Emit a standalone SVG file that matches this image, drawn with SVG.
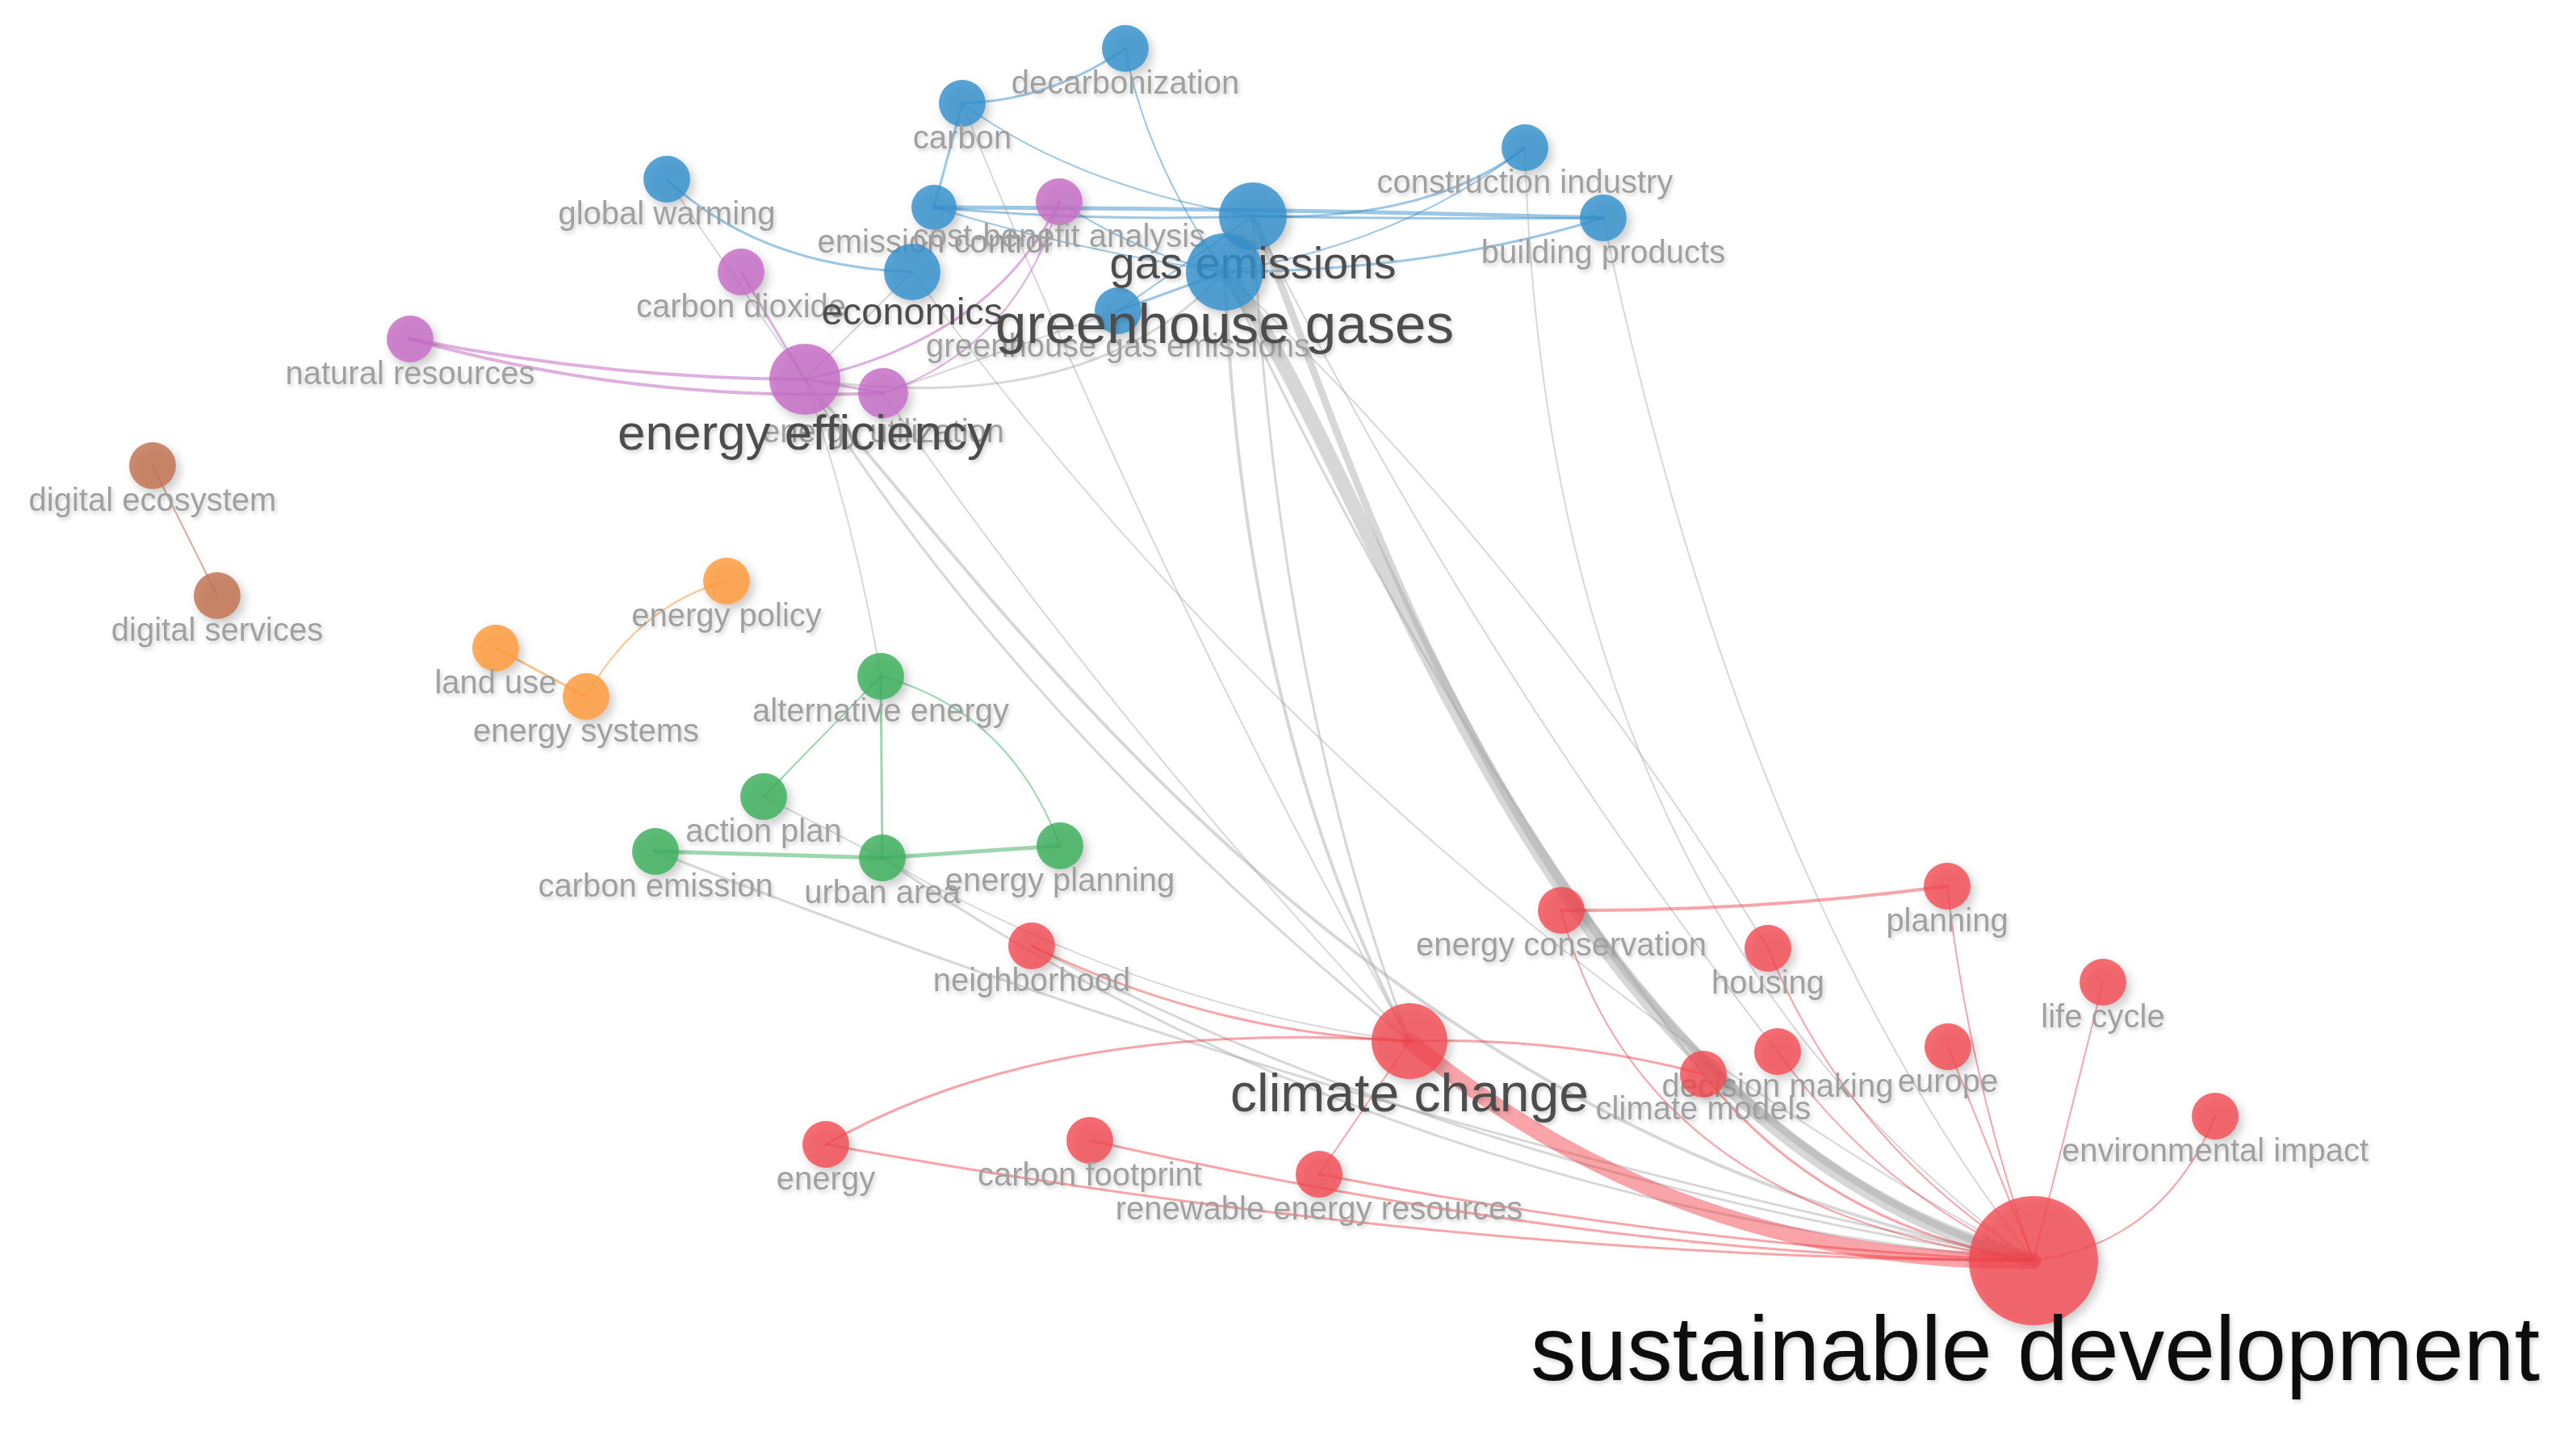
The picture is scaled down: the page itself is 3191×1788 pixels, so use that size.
<svg xmlns="http://www.w3.org/2000/svg" width="3191" height="1788" viewBox="0 0 3191 1788">
<defs>
<filter id="sh" x="-50%" y="-50%" width="200%" height="200%">
<feDropShadow dx="5" dy="6" stdDeviation="6" flood-color="#000" flood-opacity="0.25"/>
</filter>
<filter id="tsh" x="-10%" y="-30%" width="120%" height="160%">
<feDropShadow dx="2" dy="3" stdDeviation="2.5" flood-color="#000" flood-opacity="0.18"/>
</filter>
<style>
.e{fill:none;stroke-linecap:round}
.b{stroke:#3a8fcc;stroke-opacity:.5}
.p{stroke:#c060c0;stroke-opacity:.5}
.g{stroke:#a6a6a6;stroke-opacity:.45}
.gr{stroke:#3aae5c;stroke-opacity:.5}
.o{stroke:#ff9a3c;stroke-opacity:.6}
.br{stroke:#c0704e;stroke-opacity:.6}
.r{stroke:#f0353d;stroke-opacity:.45}
.nb{fill:#3590cc;fill-opacity:.82;filter:url(#sh)}
.np{fill:#c46bc4;fill-opacity:.82;filter:url(#sh)}
.ng{fill:#3aae5c;fill-opacity:.82;filter:url(#sh)}
.no{fill:#ff9a3c;fill-opacity:.82;filter:url(#sh)}
.nbr{fill:#c0704e;fill-opacity:.82;filter:url(#sh)}
.nr{fill:#f2464d;fill-opacity:.78;filter:url(#sh)}
text{font-family:"Liberation Sans",Arial,Helvetica,sans-serif;text-anchor:middle;filter:url(#tsh)}
.s{font-size:40px;fill:#a0a0a0}
.d{fill:#4d4d4d}
</style>
</defs>
<rect width="3191" height="1788" fill="#fff"/>
<g id="connectors">
<path class="e b" stroke-width="3" d="M1394,60 Q1300,125 1192,128"/>
<path class="e b" stroke-width="2" d="M1394,60 Q1420,200 1517,337"/>
<path class="e b" stroke-width="3" d="M1192,128 L1157,257"/>
<path class="e b" stroke-width="2" d="M1192,128 Q1330,230 1552,268"/>
<path class="e b" stroke-width="3" d="M826,222 Q940,330 1130,337"/>
<path class="e b" stroke-width="5" d="M1157,257 Q1570,258 1986,270"/>
<path class="e b" stroke-width="3" d="M1157,257 Q1350,275 1552,268"/>
<path class="e b" stroke-width="2" d="M1157,257 Q1330,310 1517,337"/>
<path class="e b" stroke-width="3" d="M1552,268 Q1770,275 1889,183"/>
<path class="e b" stroke-width="2" d="M1517,337 Q1740,300 1889,183"/>
<path class="e b" stroke-width="3" d="M1517,337 Q1780,335 1986,270"/>
<path class="e b" stroke-width="3" d="M1552,268 Q1770,272 1986,270"/>
<path class="e b" stroke-width="2" d="M1385,385 L1552,268"/>
<path class="e b" stroke-width="3" d="M1385,385 L1517,337"/>
<path class="e b" stroke-width="2" d="M1312,250 Q1420,320 1517,337"/>
<path class="e p" stroke-width="4" d="M508,420 Q760,470 997,470"/>
<path class="e p" stroke-width="4" d="M508,420 Q790,500 1094,487"/>
<path class="e p" stroke-width="3" d="M918,337 L997,470"/>
<path class="e p" stroke-width="3" d="M1312,250 Q1230,420 997,470"/>
<path class="e p" stroke-width="2" d="M1312,250 Q1260,430 1094,487"/>
<path class="e p" stroke-width="3" d="M997,470 L1094,487"/>
<path class="e g" stroke-width="18" d="M1517,337 C1700,560 1900,1400 2519,1562"/>
<path class="e g" stroke-width="9" d="M1552,268 C1660,500 1880,1380 2519,1562"/>
<path class="e g" stroke-width="4" d="M1517,337 Q1540,900 1746,1290"/>
<path class="e g" stroke-width="3" d="M1552,268 Q1580,850 1746,1290"/>
<path class="e g" stroke-width="2" d="M1192,128 Q1430,720 1746,1290"/>
<path class="e g" stroke-width="3" d="M997,470 Q1268,900 1746,1290"/>
<path class="e g" stroke-width="4" d="M997,470 C1300,820 1700,1400 2519,1562"/>
<path class="e g" stroke-width="2" d="M1130,337 Q1695,1110 2519,1562"/>
<path class="e g" stroke-width="2" d="M1889,183 Q1916,1127 2519,1562"/>
<path class="e g" stroke-width="2" d="M1986,270 Q2160,1100 2519,1562"/>
<path class="e g" stroke-width="2" d="M1552,268 Q1823,815 2202,1303"/>
<path class="e g" stroke-width="2" d="M826,222 L997,470"/>
<path class="e g" stroke-width="2" d="M1130,337 L997,470"/>
<path class="e g" stroke-width="3" d="M997,470 Q1350,520 1517,337"/>
<path class="e g" stroke-width="2" d="M1094,487 L1385,385"/>
<path class="e g" stroke-width="2" d="M1091,838 Q1060,650 997,470"/>
<path class="e g" stroke-width="3" d="M812,1055 Q1665,1392 2519,1562"/>
<path class="e g" stroke-width="3" d="M1093,1063 Q1714,1488 2519,1562"/>
<path class="e g" stroke-width="2" d="M1093,1063 Q1420,1250 1746,1290"/>
<path class="e g" stroke-width="3" d="M1278,1172 Q1800,1450 2519,1562"/>
<path class="e g" stroke-width="2" d="M946,987 L1093,1063"/>
<path class="e g" stroke-width="3" d="M1517,337 Q1780,900 2110,1331"/>
<path class="e g" stroke-width="2" d="M1517,337 Q1900,700 2190,1175"/>
<path class="e g" stroke-width="2" d="M1094,487 Q1380,900 1746,1290"/>
<path class="e gr" stroke-width="2" d="M1091,838 L946,987"/>
<path class="e gr" stroke-width="3" d="M1091,838 L1093,1063"/>
<path class="e gr" stroke-width="2" d="M1091,838 Q1250,880 1313,1048"/>
<path class="e gr" stroke-width="5" d="M812,1055 L1093,1063"/>
<path class="e gr" stroke-width="5" d="M1093,1063 L1313,1048"/>
<path class="e o" stroke-width="2" d="M900,720 Q790,750 726,863"/>
<path class="e o" stroke-width="3" d="M614,803 L726,863"/>
<path class="e br" stroke-width="2" d="M189,577 L269,738"/>
<path class="e r" stroke-width="4" d="M1934,1128 Q2170,1130 2412,1098"/>
<path class="e r" stroke-width="2" d="M1934,1128 Q2030,1500 2519,1562"/>
<path class="e r" stroke-width="2" d="M2412,1098 Q2440,1340 2519,1562"/>
<path class="e r" stroke-width="2" d="M2190,1175 Q2290,1420 2519,1562"/>
<path class="e r" stroke-width="2" d="M2605,1217 L2519,1562"/>
<path class="e r" stroke-width="2" d="M2413,1297 L2519,1562"/>
<path class="e r" stroke-width="2" d="M2744,1383 Q2680,1540 2519,1562"/>
<path class="e r" stroke-width="2" d="M2202,1303 Q2330,1480 2519,1562"/>
<path class="e r" stroke-width="3" d="M2110,1331 Q2260,1520 2519,1562"/>
<path class="e r" stroke-width="3" d="M1746,1290 Q1940,1285 2110,1331"/>
<path class="e r" stroke-width="20" stroke-opacity=".55" d="M1746,1290 Q2082,1568 2519,1562"/>
<path class="e r" stroke-width="3" d="M1278,1172 Q1500,1280 1746,1290"/>
<path class="e r" stroke-width="3" d="M1023,1418 Q1300,1260 1746,1290"/>
<path class="e r" stroke-width="3" d="M1023,1418 Q1800,1560 2519,1562"/>
<path class="e r" stroke-width="3" d="M1350,1413 Q2000,1560 2519,1562"/>
<path class="e r" stroke-width="3" d="M1634,1455 Q2100,1545 2519,1562"/>
<path class="e r" stroke-width="2" d="M1634,1455 L1746,1290"/>
</g>
<g id="n-digital-ecosystem"><circle class="nbr" cx="189" cy="577" r="29"/><text class="s" x="189" y="633">digital ecosystem</text></g>
<g id="n-digital-services"><circle class="nbr" cx="269" cy="738" r="29"/><text class="s" x="269" y="794">digital services</text></g>
<g id="n-energy-policy"><circle class="no" cx="900" cy="720" r="29"/><text class="s" x="900" y="776">energy policy</text></g>
<g id="n-land-use"><circle class="no" cx="614" cy="803" r="29"/><text class="s" x="614" y="859">land use</text></g>
<g id="n-energy-systems"><circle class="no" cx="726" cy="863" r="29"/><text class="s" x="726" y="919">energy systems</text></g>
<g id="n-alternative-energy"><circle class="ng" cx="1091" cy="838" r="29"/><text class="s" x="1091" y="894">alternative energy</text></g>
<g id="n-action-plan"><circle class="ng" cx="946" cy="987" r="29"/><text class="s" x="946" y="1043">action plan</text></g>
<g id="n-carbon-emission"><circle class="ng" cx="812" cy="1055" r="29"/><text class="s" x="812" y="1111">carbon emission</text></g>
<g id="n-energy-planning"><circle class="ng" cx="1313" cy="1048" r="29"/><text class="s" x="1313" y="1104">energy planning</text></g>
<g id="n-urban-area"><circle class="ng" cx="1093" cy="1063" r="29"/><text class="s" x="1093" y="1119">urban area</text></g>
<g id="n-neighborhood"><circle class="nr" cx="1278" cy="1172" r="29"/><text class="s" x="1278" y="1228">neighborhood</text></g>
<g id="n-energy-conservation"><circle class="nr" cx="1934" cy="1128" r="29"/><text class="s" x="1934" y="1184">energy conservation</text></g>
<g id="n-planning"><circle class="nr" cx="2412" cy="1098" r="29"/><text class="s" x="2412" y="1154">planning</text></g>
<g id="n-housing"><circle class="nr" cx="2190" cy="1175" r="29"/><text class="s" x="2190" y="1231">housing</text></g>
<g id="n-life-cycle"><circle class="nr" cx="2605" cy="1217" r="29"/><text class="s" x="2605" y="1273">life cycle</text></g>
<g id="n-decision-making"><circle class="nr" cx="2202" cy="1303" r="29"/><text class="s" x="2202" y="1359">decision making</text></g>
<g id="n-climate-models"><circle class="nr" cx="2110" cy="1331" r="29"/><text class="s" x="2110" y="1387">climate models</text></g>
<g id="n-europe"><circle class="nr" cx="2413" cy="1297" r="29"/><text class="s" x="2413" y="1353">europe</text></g>
<g id="n-environmental-impact"><circle class="nr" cx="2744" cy="1383" r="29"/><text class="s" x="2744" y="1439">environmental impact</text></g>
<g id="n-energy"><circle class="nr" cx="1023" cy="1418" r="29"/><text class="s" x="1023" y="1474">energy</text></g>
<g id="n-carbon-footprint"><circle class="nr" cx="1350" cy="1413" r="29"/><text class="s" x="1350" y="1469">carbon footprint</text></g>
<g id="n-renewable-energy-resources"><circle class="nr" cx="1634" cy="1455" r="29"/><text class="s" x="1634" y="1511">renewable energy resources</text></g>
<g id="n-decarbonization"><circle class="nb" cx="1394" cy="60" r="29"/><text class="s" x="1394" y="116">decarbonization</text></g>
<g id="n-carbon"><circle class="nb" cx="1192" cy="128" r="29"/><text class="s" x="1192" y="184">carbon</text></g>
<g id="n-global-warming"><circle class="nb" cx="826" cy="222" r="29"/><text class="s" x="826" y="278">global warming</text></g>
<g id="n-construction-industry"><circle class="nb" cx="1889" cy="183" r="29"/><text class="s" x="1889" y="239">construction industry</text></g>
<g id="n-building-products"><circle class="nb" cx="1986" cy="270" r="29"/><text class="s" x="1986" y="326">building products</text></g>
<g id="n-emission-control"><circle class="nb" cx="1157" cy="257" r="28"/><text class="s" x="1157" y="313">emission control</text></g>
<g id="n-cost-benefit-analysis"><circle class="np" cx="1312" cy="250" r="29"/><text class="s" x="1312" y="306">cost-benefit analysis</text></g>
<g id="n-greenhouse-gas-emissions"><circle class="nb" cx="1385" cy="385" r="29"/><text class="s" x="1385" y="442">greenhouse gas emissions</text></g>
<g id="n-carbon-dioxide"><circle class="np" cx="918" cy="337" r="29"/><text class="s" x="918" y="393">carbon dioxide</text></g>
<g id="n-natural-resources"><circle class="np" cx="508" cy="420" r="29"/><text class="s" x="508" y="476">natural resources</text></g>
<g id="n-energy-utilization"><circle class="np" cx="1094" cy="487" r="31"/><text class="s" x="1094" y="548">energy utilization</text></g>
<g id="n-economics"><circle class="nb" cx="1130" cy="337" r="35"/><text class="d" x="1130" y="402" font-size="47" fill="#505050">economics</text></g>
<g id="n-gas-emissions"><circle class="nb" cx="1552" cy="268" r="42"/><text class="d" x="1552" y="345" font-size="56" fill="#505050">gas emissions</text></g>
<g id="n-energy-efficiency"><circle class="np" cx="997" cy="470" r="44"/><text class="d" x="997" y="557" font-size="62" fill="#4a4a4a">energy efficiency</text></g>
<g id="n-climate-change"><circle class="nr" cx="1746" cy="1290" r="47"/><text class="d" x="1746" y="1377" font-size="66" fill="#4a4a4a">climate change</text></g>
<g id="n-greenhouse-gases"><circle class="nb" cx="1517" cy="337" r="48"/><text class="d" x="1517" y="425" font-size="69" fill="#3c3c3c">greenhouse gases</text></g>
<g id="n-sustainable-development"><circle class="nr" cx="2519" cy="1562" r="80"/><text x="2521" y="1710" font-size="113" fill="#0a0a0a">sustainable development</text></g>
</svg>
